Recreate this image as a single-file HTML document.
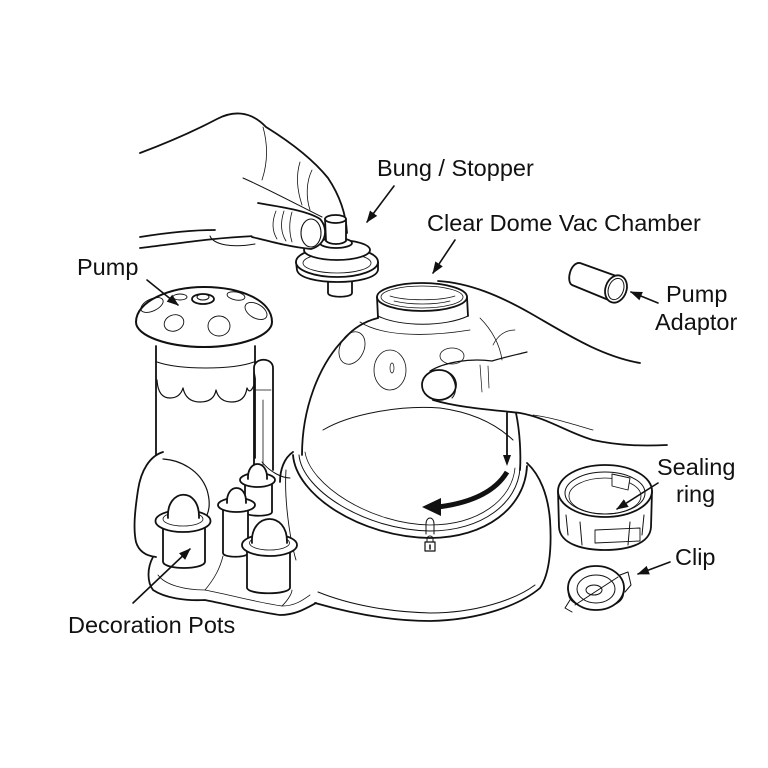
<!DOCTYPE html>
<html><head><meta charset="utf-8"><style>
html,body{margin:0;padding:0;background:#fff;}
svg{display:block;}
text{font-family:"Liberation Sans",Arial,sans-serif;font-size:23.5px;fill:#111;}
</style></head><body>
<svg width="768" height="768" viewBox="0 0 768 768" xmlns="http://www.w3.org/2000/svg">
<defs>
<marker id="ah" viewBox="0 0 12 10" refX="11" refY="5" markerWidth="12" markerHeight="10" markerUnits="userSpaceOnUse" orient="auto"><path d="M0,0.5 L12,5 L0,9.5 z" fill="#111"/></marker>
</defs>
<rect width="768" height="768" fill="#fff"/>
<g fill="none" stroke="#111" stroke-width="1.8" stroke-linecap="round" stroke-linejoin="round">

<!-- upper hand -->
<path d="M140,153 C172,141 198,129 217,119 C232,111 250,110 266,127 C287,140 311,157 328,178 C340,196 346,214 347,233"/>
<path d="M243,178 C268,189 296,204 322,217" stroke-width="1"/>
<path d="M263,127 C268,145 268,162 262,180" stroke-width="0.8"/>
<path d="M300,162 C296,175 297,190 302,205" stroke-width="0.8"/>
<path d="M312,170 C306,182 306,198 310,210" stroke-width="0.8"/>
<path d="M140,237 C165,233 190,230 215,230"/>
<path d="M140,248 C175,244 210,238 255,236"/>
<path d="M210,236 C214,245 232,248 255,244" stroke-width="1"/>

<!-- bung -->
<path d="M328,276 L328,293 C328,298 352,298 352,293 L352,276" fill="#fff"/>
<path d="M296,262 L297,270 C300,286 375,286 378,270 L378,262" fill="#fff"/>
<ellipse cx="337" cy="262" rx="41" ry="15" fill="#fff"/>
<ellipse cx="337" cy="263" rx="34" ry="10" stroke-width="0.8"/>
<ellipse cx="337" cy="250" rx="33" ry="10" fill="#fff"/>
<ellipse cx="336" cy="243" rx="16" ry="5" fill="#fff"/>
<path d="M325,219 L326,241 C330,245 342,245 346,241 L346,219" fill="#fff"/>
<ellipse cx="335.5" cy="219" rx="10.5" ry="4" fill="#fff"/>

<!-- thumb -->
<path d="M258,203 C282,207 308,211 320,219 C329,229 326,245 311,249 C290,247 268,241 252,237" fill="#fff"/>
<ellipse cx="311" cy="233" rx="10" ry="14" stroke-width="1.1"/>
<path d="M276,211 C272,221 272,231 277,239" stroke-width="0.8"/>
<path d="M284,211 C280,223 281,233 286,241" stroke-width="0.8"/>
<path d="M292,212 C289,222 289,232 292,242" stroke-width="0.8"/>

<!-- dome base -->
<path d="M527,463 C540,475 548,495 550,520 C552,550 549,575 540,588 C520,605 480,620 430,621 C390,621 350,613 315,603"/>
<path d="M293,452 C284,458 280,470 280,482"/>
<path d="M286,470 C284,500 290,540 296,560" stroke-width="0.9"/>
<path d="M318,592 C350,605 390,612 430,613 C475,613 515,600 535,585" stroke-width="1"/>
<!-- rim ring -->
<path d="M293,455 C296,495 360,537 430,538 C485,538 525,508 527,466"/>
<path d="M299,455 C302,490 365,530 430,531 C482,531 518,503 520,468" stroke-width="1"/>
<path d="M305,452 C310,485 370,524 430,525 C478,525 512,500 515,468" stroke-width="0.8"/>

<!-- dome -->
<path d="M302,455 C302,410 318,365 345,338 C352,330 362,322 378,318"/>
<path d="M516,413 C520,432 521,455 520,470"/>
<path d="M360,322 C380,335 420,338 470,330" stroke-width="0.8"/>
<path d="M378,318 L377,297 M467,297 L468,316"/>
<path d="M378,316 C400,327 445,327 468,316" stroke-width="1"/>
<ellipse cx="422" cy="297" rx="45" ry="14" fill="#fff"/>
<ellipse cx="422" cy="297" rx="41" ry="11" stroke-width="0.8"/>
<path d="M390,296 C405,301 440,301 455,296" stroke-width="0.7"/>
<path d="M394,301 C410,305 435,305 450,301" stroke-width="0.7"/>
<path d="M323,430 C350,414 400,405 440,408 C470,412 495,423 513,440" stroke-width="1"/>
<ellipse cx="352" cy="348" rx="12" ry="17" transform="rotate(25 352 348)" stroke-width="0.8"/>
<ellipse cx="390" cy="370" rx="16" ry="20" stroke-width="0.8"/>
<ellipse cx="392" cy="368" rx="2" ry="5" stroke-width="0.7"/>
<ellipse cx="452" cy="356" rx="12" ry="8" stroke-width="0.8"/>
<path d="M480,318 C492,330 500,345 502,360" stroke-width="0.8"/>

<!-- right hand -->
<path d="M438,281 C470,283 500,296 530,313 C565,333 600,356 640,363"/>
<path d="M433,400 C460,408 495,410 520,413 C548,418 568,433 593,440 C620,446 645,446 667,445"/>
<path d="M533,415 C555,418 575,425 593,430" stroke-width="0.8"/>
<path d="M430,371 C445,362 470,358 492,361 C505,357 515,355 527,352" stroke-width="1.2"/>
<ellipse cx="439" cy="385" rx="17" ry="15" fill="#fff"/>
<path d="M447,372 C456,378 458,392 452,398" stroke-width="1"/>
<path d="M480,365 L482,392 M488,366 L489,388" stroke-width="0.7"/>
<path d="M493,345 C498,335 505,330 515,330" stroke-width="0.7"/>

<!-- dome arrows -->
<line x1="507" y1="413" x2="507" y2="458" stroke-width="1.8"/>
<polygon points="503,455 511,455 507,466" fill="#111" stroke="none"/>
<path d="M507,472 C495,492 470,503 438,507" stroke-width="5" stroke-linecap="butt"/>
<polygon points="441,498 422,507 441,516" fill="#111" stroke="none"/>

<!-- slot and lock -->
<path d="M426,534 L426,524 C426,516 434,516 434,524 L434,534" stroke-width="1"/>
<path d="M427,542 L427,539 C427,535 433,535 433,539 L433,542" stroke-width="1"/>
<rect x="425" y="542" width="10" height="9" stroke-width="1.2"/>
<line x1="430" y1="545" x2="430" y2="549" stroke-width="1.5"/>

<!-- pump base and tray -->
<path d="M163,452 C150,456 141,470 138,490 C135,510 133,528 136,542 C139,552 147,556 156,557"/>
<path d="M163,459 C180,460 200,470 207,490 C210,500 210,508 207,515" stroke-width="1.2"/>
<path d="M262,462 C270,472 282,478 290,478" stroke-width="1"/>
<path d="M153,557 C147,568 147,582 153,590 C165,598 185,601 205,600 C230,605 258,612 280,615 C295,615 305,609 316,603"/>
<path d="M158,575 C165,585 185,590 205,590 C235,596 260,603 282,606 C295,606 303,600 310,595" stroke-width="0.8"/>
<path d="M205,590 C215,578 220,568 223,556" stroke-width="0.8"/>
<path d="M282,606 C290,598 292,592 292,590" stroke-width="0.8"/>

<!-- pump cylinder -->
<path d="M156,346 L156,455 M255,346 L255,458"/>
<path d="M157,362 C180,370 232,370 254,362" stroke-width="1"/>
<path d="M157,380 Q158,398 170,398 Q180,398 183,388 Q186,402 200,402 Q214,402 216,390 Q219,402 232,402 Q245,402 247,388 Q250,395 254,385" stroke-width="1.2"/>
<!-- handle -->
<path d="M254,368 C254,357 273,357 273,368 L273,470 M254,368 L254,465" fill="#fff"/>
<path d="M256,390 L271,390" stroke-width="0.8"/>
<path d="M263,400 L263,465" stroke-width="0.8"/>

<!-- pump cap -->
<path d="M136,322 C136,301 170,287 204,287 C240,287 272,300 272,322 C272,336 240,347 204,347 C168,347 136,336 136,322 Z" fill="#fff" stroke-width="2"/>
<ellipse cx="203" cy="299" rx="11" ry="5"/>
<ellipse cx="203" cy="297" rx="6" ry="3" stroke-width="1"/>
<g stroke-width="0.9">
<ellipse cx="152" cy="305" rx="12" ry="6" transform="rotate(-25 152 305)"/>
<ellipse cx="174" cy="323" rx="10" ry="8" transform="rotate(-20 174 323)"/>
<ellipse cx="219" cy="326" rx="11" ry="10"/>
<ellipse cx="256" cy="311" rx="12" ry="7" transform="rotate(30 256 311)"/>
<ellipse cx="180" cy="297" rx="7" ry="3"/>
<ellipse cx="236" cy="296" rx="9" ry="4" transform="rotate(10 236 296)"/>
</g>

<!-- pots -->
<path d="M245,480 L245,512 C245,517 272,517 272,512 L272,480 Z" fill="#fff"/>
<ellipse cx="257.5" cy="480" rx="17.5" ry="7" fill="#fff"/>
<path d="M248,479 C247,459 268,459 267,479" fill="#fff"/>

<path d="M223,505 L223,553 C223,558 248,558 248,553 L248,505 Z" fill="#fff"/>
<ellipse cx="236.5" cy="505" rx="18.5" ry="7" fill="#fff"/>
<path d="M227,503 C226,483 247,483 246,503" fill="#fff"/>

<path d="M163,520 L163,562 C165,570 203,570 205,562 L205,520 Z" fill="#fff"/>
<ellipse cx="183" cy="521" rx="27.5" ry="11" fill="#fff"/>
<ellipse cx="183" cy="519" rx="20" ry="7" stroke-width="0.8"/>
<path d="M168,518 C166,488 200,486 199,518" fill="#fff"/>

<path d="M247,545 L247,588 C249,595 288,595 290,588 L290,545 Z" fill="#fff"/>
<ellipse cx="269.5" cy="545" rx="27.5" ry="11" fill="#fff"/>
<ellipse cx="269.5" cy="543" rx="20" ry="7" stroke-width="0.8"/>
<path d="M252,543 C250,512 288,510 287,543" fill="#fff"/>

<!-- pump adaptor -->
<path d="M580,263 L619,277 L611,301 L572,285 C566,282 570,262 580,263 Z" fill="#fff"/>
<ellipse cx="616" cy="289" rx="10.5" ry="14" transform="rotate(20 616 289)" fill="#fff"/>
<ellipse cx="616" cy="289" rx="7.5" ry="11" transform="rotate(20 616 289)" stroke-width="1"/>

<!-- sealing ring -->
<path d="M558,491 L559,527 C560,545 585,550 605,550 C625,550 650,545 651,527 L652,491" fill="#fff"/>
<ellipse cx="605" cy="491" rx="47" ry="26" fill="#fff"/>
<ellipse cx="605" cy="493" rx="40" ry="21" stroke-width="1"/>
<ellipse cx="605" cy="496" rx="36" ry="18" stroke-width="0.8"/>
<path d="M566,515 L568,535 M580,522 L582,545 M630,522 L628,545 M644,515 L642,535" stroke-width="1"/>
<path d="M595,530 L640,528 L640,541 L595,543 Z" stroke-width="0.9"/>
<path d="M612,474 L612,486 L628,490 L630,478 Z" stroke-width="0.9" fill="#fff"/>

<!-- clip -->
<path d="M568,588 L569,595 C572,612 620,612 623,595 L624,588" fill="#fff"/>
<ellipse cx="596" cy="588" rx="28" ry="22" fill="#fff"/>
<ellipse cx="596" cy="589" rx="19" ry="14" stroke-width="1"/>
<ellipse cx="594" cy="590" rx="8" ry="5" stroke-width="1"/>
<path d="M575,605 L618,577" stroke-width="1"/>
<path d="M620,575 L628,572 L631,585 L625,592" stroke-width="1"/>
<path d="M570,600 L565,608 L572,612" stroke-width="1"/>

<!-- label arrows -->
<g stroke-width="1.6" marker-end="url(#ah)">
<line x1="394" y1="186" x2="367" y2="222"/>
<line x1="455" y1="240" x2="433" y2="273"/>
<line x1="147" y1="280" x2="178" y2="305"/>
<line x1="133" y1="603" x2="190" y2="549"/>
<line x1="658" y1="303" x2="631" y2="292"/>
<line x1="658" y1="483" x2="617" y2="509"/>
<line x1="670" y1="562" x2="638" y2="574"/>
</g>
</g>

<text x="377" y="176">Bung / Stopper</text>
<text x="427" y="231">Clear Dome Vac Chamber</text>
<text x="77" y="275">Pump</text>
<text x="666" y="302">Pump</text>
<text x="655" y="330">Adaptor</text>
<text x="657" y="475">Sealing</text>
<text x="676" y="502">ring</text>
<text x="675" y="565">Clip</text>
<text x="68" y="633">Decoration Pots</text>
</svg>
</body></html>
